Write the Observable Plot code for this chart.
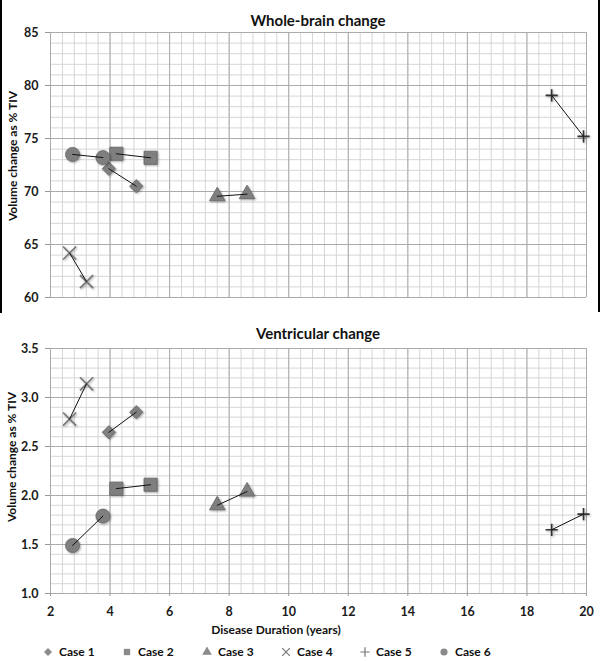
<!DOCTYPE html>
<html><head><meta charset="utf-8">
<script src="https://cdn.jsdelivr.net/npm/d3@7"></script>
<script src="https://cdn.jsdelivr.net/npm/@observablehq/plot@0.6"></script>
<style>
body{margin:0;background:#fff;font-family:Lato,"Open Sans",sans-serif;}
#root{position:relative;width:600px;height:661px;overflow:hidden;background:#fff;}
.abs{position:absolute;}
.title{font-weight:bold;font-size:15px;color:#111;text-align:center;line-height:18px;}
.ylab{font-weight:bold;font-size:12px;color:#111;white-space:nowrap;transform:translate(-50%,-50%) rotate(-90deg);line-height:14px;}
.xlab{font-weight:bold;font-size:12px;color:#111;white-space:nowrap;transform:translate(-50%,-50%);line-height:14px;}
.leg{font-weight:bold;font-size:12px;color:#111;white-space:nowrap;line-height:14px;display:flex;align-items:center;}
</style></head><body><div id="root"></div>
<script>
// ---- data ----
const caseLabels = ["Case 1", "Case 2", "Case 3", "Case 4", "Case 5", "Case 6"];
const durations = [[3.96, 4.88], [4.21, 5.36], [7.6, 8.6], [2.64, 3.21], [18.83, 19.9], [2.74, 3.76]];
const brainVolumes = [[72.15, 70.5], [73.56, 73.18], [69.55, 69.75], [64.2, 61.5], [79.07, 75.2], [73.5, 73.2]];
const ventVolumes = [[2.645, 2.85], [2.07, 2.11], [1.9, 2.04], [2.78, 3.14], [1.65, 1.81], [1.49, 1.79]];
const xTicks = [2, 4, 6, 8, 10, 12, 14, 16, 18, 20];
const brainTicks = [60, 65, 70, 75, 80, 85];
const ventTicks = [1.0, 1.5, 2.0, 2.5, 3.0, 3.5];
const titles = ["Whole-brain change", "Ventricular change"];
const yLabel = "Volume change as % TIV";
const xLabel = "Disease Duration (years)";

// ---- styles ----
const symbols = ["diamond2", "square", "triangle", "times", "plus", "circle"];
const d3symbols = [d3.symbolDiamond2, d3.symbolSquare, d3.symbolTriangle, d3.symbolTimes, d3.symbolPlus, d3.symbolCircle];
const radii = [6, 7.4, 5.8, 6, 4, 7];
const filled = [true, true, true, false, false, true];
const strokeCols = ["#666", "#666", "#666", "#777", "#333", "#666"];
const xMinor = d3.range(2, 20.001, 0.4);

const root = document.getElementById("root");

function makePanel(volumes, yTicks, yMinorStep, fmt, showX, opts) {
  const data = [];
  caseLabels.forEach((c, i) => durations[i].forEach((d, j) => data.push({caseName: c, idx: i, x: d, y: volumes[i][j]})));
  const yMinor = d3.range(yTicks[0], yTicks[yTicks.length - 1] + yMinorStep / 2, yMinorStep);
  const marks = [
    Plot.gridX(xMinor, {stroke: "#d6d6d6", strokeOpacity: 1, strokeWidth: 1}),
    Plot.gridY(yMinor, {stroke: "#d6d6d6", strokeOpacity: 1, strokeWidth: 1}),
    Plot.gridX(xTicks, {stroke: "#ababab", strokeOpacity: 1, strokeWidth: 1}),
    Plot.gridY(yTicks, {stroke: "#ababab", strokeOpacity: 1, strokeWidth: 1}),
    Plot.axisY(yTicks, {tickSize: 5, tickPadding: 7, stroke: "#999", tickFormat: fmt, fill: "#1a1a1a", fontWeight: "bold", fontSize: 12.5, label: null})
  ];
  if (showX) marks.push(Plot.axisX(xTicks, {tickSize: 3, tickPadding: 10.5, stroke: "#999", fill: "#1a1a1a", fontWeight: "bold", fontSize: 12.5, label: null}));
  caseLabels.forEach((c, i) => {
    const sub = data.filter(d => d.idx === i);
    marks.push(Plot.dot(sub, {
      x: "x", y: "y", symbol: () => symbols[i], r: radii[i],
      fill: filled[i] ? "#7f7f7f" : "none",
      stroke: strokeCols[i], strokeWidth: filled[i] ? 0.8 : 1.6,
      imageFilter: "drop-shadow(1px 1.5px 1px rgba(0,0,0,0.35))"
    }));
  });
  marks.push(Plot.line(data, {x: "x", y: "y", z: "caseName", stroke: "#111", strokeWidth: 1}));
  return Plot.plot({
    width: 600, height: opts.height,
    marginLeft: 50, marginRight: 14, marginTop: opts.marginTop, marginBottom: opts.marginBottom,
    style: {fontFamily: "Lato, 'Open Sans', sans-serif", fontSize: "12px", background: "transparent", overflow: "visible"},
    x: {domain: [2, 20], axis: showX ? undefined : null},
    y: {domain: [yTicks[0], yTicks[yTicks.length - 1]]},
    symbol: {type: "identity"},
    marks
  });
}

function place(el, t, left) {
  el.classList.add("abs");
  el.style.top = t + "px";
  el.style.left = left + "px";
  root.appendChild(el);
  return el;
}
function div(cls, text) { const d = document.createElement("div"); d.className = cls; d.textContent = text; return d; }

// top panel
const brainChart = makePanel(brainVolumes, brainTicks, 1, d3.format("d"), false, {height: 310, marginTop: 32, marginBottom: 13});
place(brainChart, 0, 0);
const t1 = div("title", titles[0]); t1.style.width = "536px"; place(t1, 11, 50);
place(div("ylab", yLabel), 156, 13);
// panel border lines
const bl = document.createElement("div"); bl.style.cssText = "width:2px;height:313px;background:#000;"; place(bl, 0, 0);
const br = document.createElement("div"); br.style.cssText = "width:2px;height:312px;background:#000;"; place(br, 0, 598);

// bottom panel
const ventChart = makePanel(ventVolumes, ventTicks, 0.1, d3.format(".1f"), true, {height: 305, marginTop: 33, marginBottom: 27});
place(ventChart, 315, 0);
const t2 = div("title", titles[1]); t2.style.width = "536px"; place(t2, 324, 50);
place(div("ylab", yLabel), 457, 12);
place(div("xlab", xLabel), 630, 276);

// legend
const legX = [48, 127, 207, 286, 365, 444];
caseLabels.forEach((c, i) => {
  const item = document.createElement("div"); item.className = "leg";
  const svg = d3.create("svg").attr("width", 10).attr("height", 10).style("overflow", "visible");
  svg.append("path").attr("transform", "translate(5,5)")
    .attr("d", d3.symbol(d3symbols[i], i === 4 ? 30 : 40)())
    .attr("fill", filled[i] ? "#8a8a8a" : "none")
    .attr("stroke", filled[i] ? "none" : "#777").attr("stroke-width", 1.2);
  item.appendChild(svg.node());
  const sp = document.createElement("span"); sp.textContent = c; sp.style.marginLeft = "6px";
  item.appendChild(sp);
  place(item, 645, legX[i] - 5);
});
</script>
</body></html>
